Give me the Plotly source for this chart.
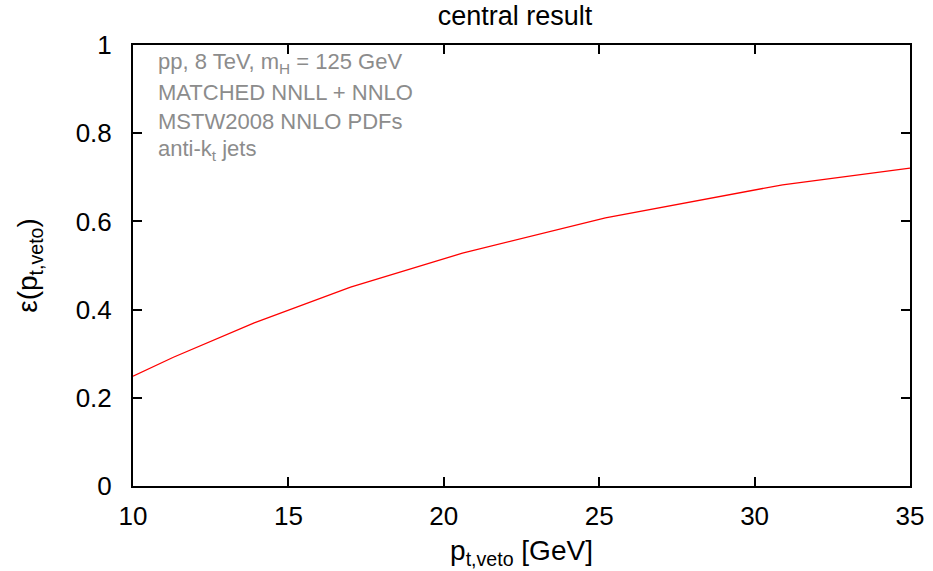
import plotly.graph_objects as go

pt_veto = [10.0, 11.3, 13.9, 17.0, 20.6, 25.2, 30.9, 35.0]
efficiency = [0.249, 0.292, 0.370, 0.451, 0.528, 0.608, 0.683, 0.721]

x_ticks = [10, 15, 20, 25, 30, 35]
y_ticks = [0, 0.2, 0.4, 0.6, 0.8, 1]
y_tick_labels = ["0", "0.2", "0.4", "0.6", "0.8", "1"]

info_lines = [
    "pp, 8 TeV, m<sub>H</sub> = 125 GeV",
    "MATCHED NNLL + NNLO",
    "MSTW2008 NNLO PDFs",
    "anti-k<sub>t</sub> jets",
]
info_y = [0.959, 0.892, 0.826, 0.763]

FONT = "Liberation Sans, Arial, sans-serif"

fig = go.Figure()
fig.add_trace(go.Scatter(x=pt_veto, y=efficiency, mode="lines",
                         line=dict(color="#ff0000", width=1.3),
                         showlegend=False, hoverinfo="skip"))

for txt, yy in zip(info_lines, info_y):
    fig.add_annotation(text=txt, x=0.029, y=yy, xref="paper", yref="paper",
                       xanchor="left", yanchor="middle", showarrow=False,
                       font=dict(family=FONT, size=22, color="#8c8c8c"))

axis_common = dict(showline=True, linecolor="black", linewidth=2, mirror="ticks",
                   ticks="inside", ticklen=9, tickwidth=2, tickcolor="black",
                   showgrid=False, zeroline=False, automargin=False,
                   tickfont=dict(family=FONT, size=26, color="black"))

fig.update_layout(
    width=933, height=571,
    paper_bgcolor="white", plot_bgcolor="white",
    margin=dict(l=133, r=23, t=45, b=85, autoexpand=False),
    title=dict(text="central result", x=0.552, xref="container", xanchor="center",
               y=0.972, yref="container", yanchor="middle",
               font=dict(family=FONT, size=27, color="black")),
    xaxis=dict(range=[10, 35], tickvals=x_ticks, ticklabelstandoff=6,
               title=dict(text="p<sub>t,veto</sub> [GeV]", standoff=10,
                          font=dict(family=FONT, size=28, color="black")),
               **axis_common),
    yaxis=dict(range=[0, 1], tickvals=y_ticks, ticktext=y_tick_labels,
               ticklabelstandoff=14,
               title=dict(text="ε(p<sub>t,veto</sub>)", standoff=30,
                          font=dict(family=FONT, size=28, color="black")),
               **axis_common),
)

fig.write_html("out.html", config={"displayModeBar": False},
               post_script="document.body.style.margin='0';")
